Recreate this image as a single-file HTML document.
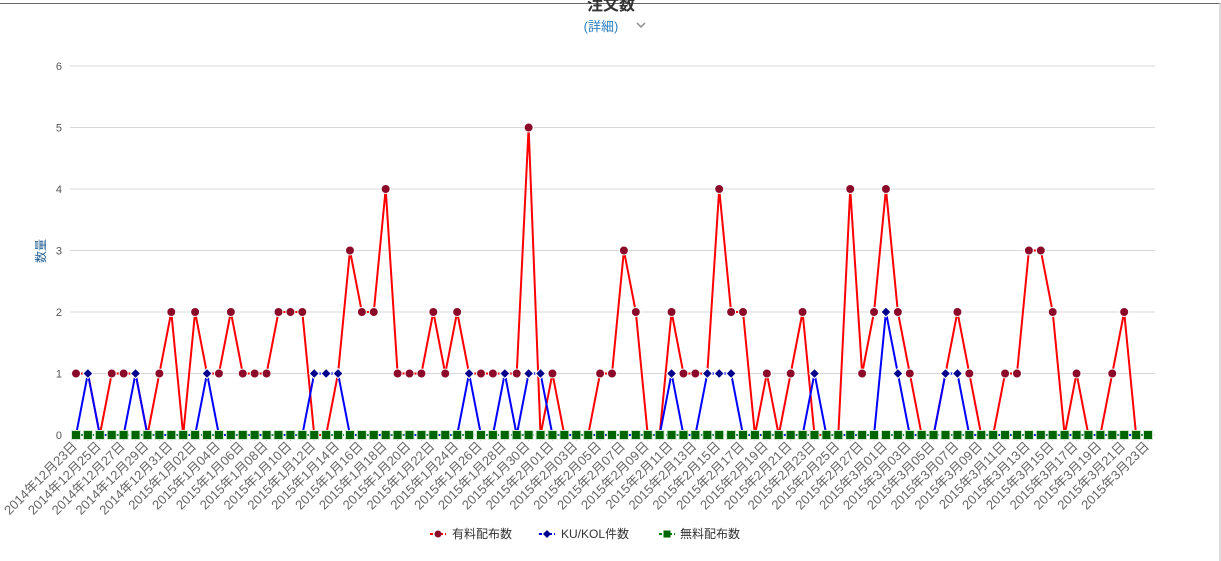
<!DOCTYPE html>
<html><head><meta charset="utf-8"><style>
html,body{margin:0;padding:0;background:#fff;}
body{width:1221px;height:561px;overflow:hidden;font-family:"Liberation Sans","Noto Sans CJK JP",sans-serif;}
</style></head><body>
<svg id="chart" width="1221" height="561" xmlns="http://www.w3.org/2000/svg" style="display:block">
<rect x="0" y="0" width="1221" height="561" fill="#fff"/>
<line x1="0" y1="3.5" x2="1221" y2="3.5" stroke="#666" stroke-width="1"/>
<line x1="1220" y1="3" x2="1220" y2="561" stroke="#d0d0d0" stroke-width="1.5"/>
<text x="611" y="10" text-anchor="middle" font-size="16" font-weight="bold" fill="#333">注文数</text>
<text x="601" y="31" text-anchor="middle" font-size="13" fill="#2a7fc0">(詳細)</text>
<path d="M636 23 L640 27 L644 23" fill="none" stroke="#999" stroke-width="1.6" transform="translate(1,0)"/>
<text transform="translate(45,251) rotate(-90)" text-anchor="middle" font-size="12" fill="#2a6496">数量</text>
<g id="grid"></g><g id="xlabels"></g><g id="series"></g>
<g font-size="12" fill="#333">
<g>
<line x1="430" y1="534" x2="446" y2="534" stroke="red" stroke-width="2" stroke-dasharray="3,2"/><circle cx="438" cy="534" r="3.5" fill="#8b0a2a"/>
<text x="452" y="538">有料配布数</text></g>
<g>
<line x1="539" y1="534" x2="555" y2="534" stroke="blue" stroke-width="2" stroke-dasharray="3,2"/><path d="M547 530 L551 534 L547 538 L543 534Z" fill="#00008b"/>
<text x="561" y="538">KU/KOL件数</text></g>
<g>
<line x1="659" y1="534" x2="675" y2="534" stroke="green" stroke-width="2" stroke-dasharray="3,2"/><rect x="663.5" y="530.5" width="7" height="7" fill="#006400"/>
<text x="680" y="538">無料配布数</text></g>
</g>
</svg>
<script>
const startDate = [2014, 12, 23];
const numDays = 91;
const paidValues = [1,1,0,1,1,1,0,1,2,0,2,1,1,2,1,1,1,2,2,2,0,0,1,3,2,2,4,1,1,1,2,1,2,1,1,1,1,1,5,0,1,0,0,0,1,1,3,2,0,0,2,1,1,1,4,2,2,0,1,0,1,2,0,0,0,4,1,2,4,2,1,0,0,1,2,1,0,0,1,1,3,3,2,0,1,0,0,1,2,0,0];
const kuValues = [0,1,0,0,0,1,0,0,0,0,0,1,0,0,0,0,0,0,0,0,1,1,1,0,0,0,0,0,0,0,0,0,0,1,0,0,1,0,1,1,0,0,0,0,0,0,0,0,0,0,1,0,0,1,1,1,0,0,0,0,0,0,1,0,0,0,0,0,2,1,0,0,0,1,1,0,0,0,0,0,0,0,0,0,0,0,0,0,0,0,0];
const freeValues = new Array(91).fill(0);
const yTicks = [0,1,2,3,4,5,6];

const NS = "http://www.w3.org/2000/svg";
const X0 = 76, X1 = 1148, Y0 = 435, Y6 = 66;
function xs(i){ return X0 + (X1 - X0) * i / (numDays - 1); }
function ys(v){ return Y0 - (Y0 - Y6) * v / 6; }
function mk(tag, attrs, parent){ const e = document.createElementNS(NS, tag); for (const k in attrs) e.setAttribute(k, attrs[k]); parent.appendChild(e); return e; }

const grid = document.getElementById('grid');
yTicks.forEach(t => {
  const l = mk('line', {x1:70, x2:1155, y1:ys(t), y2:ys(t), stroke:'#d8d8d8', 'stroke-width':1}, grid);
  
  
  const tx = mk('text', {x:62, y:ys(t)+4, 'text-anchor':'end', 'font-size':11, fill:'#555'}, grid);
  tx.textContent = t;
  
  
});

const xl = document.getElementById('xlabels');
function pad(n){ return n < 10 ? '0' + n : '' + n; }
const base = new Date(startDate[0], startDate[1]-1, startDate[2]);
for (let i = 0; i < numDays; i++) {
  const d = new Date(base.getTime()); d.setDate(base.getDate() + i);
  const x = xs(i);
  const tk = mk('line', {x1:x, x2:x, y1:435, y2:441, stroke:'#ccc', 'stroke-width':1}, xl);
  
  
  if (i % 2 === 0) {
    const t = mk('text', {transform:'translate(' + (x+2) + ',447) rotate(-45)', 'text-anchor':'end', 'font-size':13, fill:'#666'}, xl);
    t.textContent = d.getFullYear() + '年' + (d.getMonth()+1) + '月' + pad(d.getDate()) + '日';
    
    
  }
}

const sg = document.getElementById('series');
function drawSeries(vals, color, name, dash){
  const g = mk('g', {}, sg);
  
  
  const pts = vals.map((v,i) => xs(i) + ',' + ys(v)).join(' ');
  const pl = mk('polyline', {points:pts, fill:'none', stroke:color, 'stroke-width':2}, g);
  if (dash) pl.setAttribute('stroke-dasharray', dash);
  
  
  return g;
}
drawSeries(freeValues, '#2e8b57', 'free', '3,2');
drawSeries(paidValues, 'red', 'paid');
drawSeries(kuValues, 'blue', 'ku-kol');
const gKu2 = mk('g', {}, sg);
kuValues.forEach((v,i) => {
  if (v === 0) return;
  const x = xs(i), y = ys(v);
  const p = mk('path', {d:'M'+x+' '+(y-5)+' L'+(x+5)+' '+y+' L'+x+' '+(y+5)+' L'+(x-5)+' '+y+'Z', fill:'#00008b', stroke:'#fff', 'stroke-width':1}, gKu2);
  
  
});
paidValues.forEach((v,i) => {
  if (v === 0 || kuValues[i] === v) return;
  const c = mk('circle', {cx:xs(i), cy:ys(v), r:4.5, fill:'#8b0a2a', stroke:'#fff', 'stroke-width':1}, sg);
  
  
});
sg.appendChild(gKu2);
const gFreePts = mk('g', {}, sg);
const fl = mk('polyline', {points: freeValues.map((v,i)=>xs(i)+','+ys(v)).join(' '), fill:'none', stroke:'#2e8b57', 'stroke-width':2, 'stroke-dasharray':'3,2'}, gFreePts);


freeValues.forEach((v,i) => {
  const r = mk('rect', {x:xs(i)-4.5, y:ys(v)-4.5, width:9, height:9, fill:'#006400', stroke:'#cfe8cf', 'stroke-width':1}, gFreePts);
  
  
});
</script>
</body></html>
